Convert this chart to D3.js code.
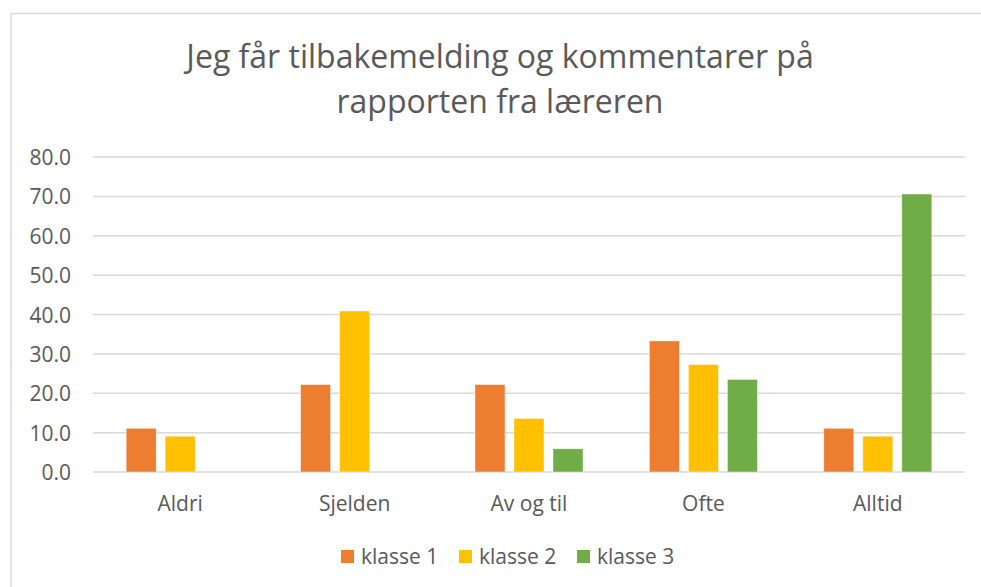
<!DOCTYPE html>
<html>
<head>
<meta charset="utf-8">
<script src="https://cdn.jsdelivr.net/npm/d3@7"></script>
<style>
    body { margin: 0; background: #fff; }
    text { font-family: "Open Sans", "Noto Sans", sans-serif; fill: #595959; }
</style>
</head>
<body>
<div id="chart"></div>
<script>
const categories = ["Aldri", "Sjelden", "Av og til", "Ofte", "Alltid"];
const seriesNames = ["klasse 1", "klasse 2", "klasse 3"];
const klasse1 = [11.1, 22.2, 22.2, 33.3, 11.1];
const klasse2 = [9.1, 40.9, 13.6, 27.3, 9.1];
const klasse3 = [0, 0, 5.9, 23.5, 70.6];
const yTicks = [0, 10, 20, 30, 40, 50, 60, 70, 80];
const colors = ["#ed7d31", "#ffc000", "#70ad47"];
const titleLines = ["Jeg får tilbakemelding og kommentarer på", "rapporten fra læreren"];

const width = 981, height = 587;
const margin = { top: 157, right: 16, bottom: 115, left: 93 };

const svg = d3.select("#chart").append("svg")
    .attr("width", width)
    .attr("height", height);

// chart frame
svg.append("rect")
    .attr("x", 11).attr("y", 13.5)
    .attr("width", width + 10).attr("height", height + 10)
    .attr("fill", "none")
    .attr("stroke", "#d9d9d9")
    .attr("stroke-width", 1.5);

// title
svg.append("g").selectAll("text")
    .data(titleLines)
    .enter().append("text")
    .attr("x", 500)
    .attr("y", (d, i) => 68 + i * 45)
    .attr("text-anchor", "middle")
    .style("font-size", "32px")
    .text(d => d);

const x = d3.scaleBand()
    .domain(categories)
    .range([margin.left, width - margin.right]);

const x1 = d3.scaleBand()
    .domain(seriesNames)
    .range([0, x.bandwidth()])
    .paddingInner(0.23)
    .paddingOuter(0.85);

const y = d3.scaleLinear()
    .domain([0, 80])
    .range([height - margin.bottom, margin.top]);

// gridlines
svg.append("g")
    .selectAll("line")
    .data(yTicks)
    .enter().append("line")
    .attr("x1", margin.left)
    .attr("x2", width - margin.right)
    .attr("y1", d => y(d))
    .attr("y2", d => y(d))
    .attr("stroke", "#d9d9d9")
    .attr("stroke-width", 1.5);

// y axis labels
const yAxis = svg.append("g")
    .attr("transform", `translate(${margin.left - 22},0)`)
    .call(d3.axisLeft(y).tickValues(yTicks).tickFormat(d3.format(".1f")).tickSize(0));
yAxis.select(".domain").remove();
yAxis.selectAll("text")
    .attr("x", 0)
    .attr("dy", "0.36em")
    .style("font-size", "21px")
    .style("fill", "#595959");

// x axis labels
const xAxis = svg.append("g")
    .attr("transform", `translate(0,${height - margin.bottom})`)
    .call(d3.axisBottom(x).tickSize(0));
xAxis.select(".domain").remove();
xAxis.selectAll("text")
    .attr("y", 39)
    .attr("dy", null)
    .style("font-size", "21px")
    .style("fill", "#595959");

// bars
const series = [klasse1, klasse2, klasse3];
const rows = [];
categories.forEach((c, i) => {
    seriesNames.forEach((s, j) => {
        rows.push({ cat: c, name: s, value: series[j][i], color: colors[j] });
    });
});

svg.append("g")
    .selectAll("rect")
    .data(rows.filter(d => d.value > 0))
    .enter().append("rect")
    .attr("x", d => x(d.cat) + x1(d.name))
    .attr("y", d => y(d.value))
    .attr("width", x1.bandwidth())
    .attr("height", d => y(0) - y(d.value))
    .attr("fill", d => d.color)
    .attr("stroke", "#fff")
    .attr("stroke-opacity", 0.6)
    .attr("stroke-width", 0.75);

// legend
const legend = svg.append("g")
    .attr("transform", "translate(341,556.5)");
const lx = [0, 118, 236];
const item = legend.selectAll("g")
    .data(seriesNames)
    .enter().append("g")
    .attr("transform", (d, i) => `translate(${lx[i]},0)`);
item.append("rect")
    .attr("x", 0).attr("y", -6.5)
    .attr("width", 13).attr("height", 13)
    .attr("fill", (d, i) => colors[i]);
item.append("text")
    .attr("x", 20)
    .attr("y", 7)
    .style("font-size", "21px")
    .text(d => d);
</script>
</body>
</html>
